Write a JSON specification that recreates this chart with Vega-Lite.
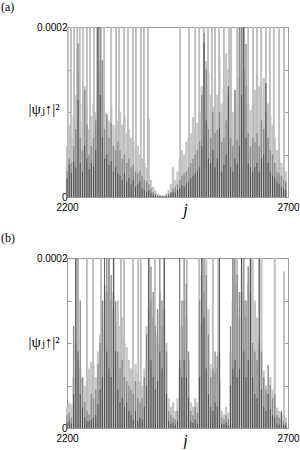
{
"$schema":"https://vega.github.io/schema/vega-lite/v6.json",
"padding":{"left":0,"top":0,"right":5,"bottom":0},
"spacing":13,
"config":{"view":{"stroke":"#9a9a9a","strokeWidth":1},"axis":{"grid":false,"domain":false,"labelFont":"Arial, Liberation Sans, sans-serif","labelFontSize":10,"labelColor":"#000","tickColor":"#9a9a9a"},"title":{"font":"Times New Roman, Liberation Serif, DejaVu Serif, serif","fontSize":12,"fontWeight":"normal","anchor":"start","frame":"group","dx":-66,"offset":8}},
"data":{"values":[
{"p":"a","s":"L","j":2200,"v":60e-6},{"p":"a","s":"L","j":2205,"v":85e-6},{"p":"a","s":"L","j":2210,"v":70e-6},{"p":"a","s":"L","j":2215,"v":95e-6},{"p":"a","s":"L","j":2220,"v":120e-6},{"p":"a","s":"L","j":2225,"v":150e-6},{"p":"a","s":"L","j":2230,"v":110e-6},{"p":"a","s":"L","j":2235,"v":90e-6},{"p":"a","s":"L","j":2240,"v":130e-6},{"p":"a","s":"L","j":2245,"v":105e-6},
{"p":"a","s":"L","j":2250,"v":80e-6},{"p":"a","s":"L","j":2255,"v":95e-6},{"p":"a","s":"L","j":2260,"v":110e-6},{"p":"a","s":"L","j":2265,"v":100e-6},{"p":"a","s":"L","j":2270,"v":140e-6},{"p":"a","s":"L","j":2275,"v":160e-6},{"p":"a","s":"L","j":2280,"v":120e-6},{"p":"a","s":"L","j":2285,"v":100e-6},{"p":"a","s":"L","j":2290,"v":95e-6},{"p":"a","s":"L","j":2295,"v":90e-6},
{"p":"a","s":"L","j":2300,"v":105e-6},{"p":"a","s":"L","j":2305,"v":85e-6},{"p":"a","s":"L","j":2310,"v":80e-6},{"p":"a","s":"L","j":2315,"v":90e-6},{"p":"a","s":"L","j":2320,"v":100e-6},{"p":"a","s":"L","j":2325,"v":85e-6},{"p":"a","s":"L","j":2330,"v":95e-6},{"p":"a","s":"L","j":2335,"v":75e-6},{"p":"a","s":"L","j":2340,"v":80e-6},{"p":"a","s":"L","j":2345,"v":70e-6},
{"p":"a","s":"L","j":2350,"v":65e-6},{"p":"a","s":"L","j":2355,"v":55e-6},{"p":"a","s":"L","j":2360,"v":60e-6},{"p":"a","s":"L","j":2365,"v":50e-6},{"p":"a","s":"L","j":2370,"v":45e-6},{"p":"a","s":"L","j":2375,"v":40e-6},{"p":"a","s":"L","j":2380,"v":35e-6},{"p":"a","s":"L","j":2385,"v":92e-6},{"p":"a","s":"L","j":2390,"v":20e-6},{"p":"a","s":"L","j":2395,"v":12e-6},
{"p":"a","s":"L","j":2400,"v":8e-6},{"p":"a","s":"L","j":2405,"v":4e-6},{"p":"a","s":"L","j":2410,"v":3e-6},{"p":"a","s":"L","j":2415,"v":2e-6},{"p":"a","s":"L","j":2420,"v":2e-6},{"p":"a","s":"L","j":2425,"v":4e-6},{"p":"a","s":"L","j":2430,"v":8e-6},{"p":"a","s":"L","j":2435,"v":15e-6},{"p":"a","s":"L","j":2440,"v":35e-6},{"p":"a","s":"L","j":2445,"v":20e-6},
{"p":"a","s":"L","j":2450,"v":30e-6},{"p":"a","s":"L","j":2455,"v":45e-6},{"p":"a","s":"L","j":2460,"v":55e-6},{"p":"a","s":"L","j":2465,"v":50e-6},{"p":"a","s":"L","j":2470,"v":65e-6},{"p":"a","s":"L","j":2475,"v":69e-6},{"p":"a","s":"L","j":2480,"v":75e-6},{"p":"a","s":"L","j":2485,"v":94e-6},{"p":"a","s":"L","j":2490,"v":80e-6},{"p":"a","s":"L","j":2495,"v":87e-6},
{"p":"a","s":"L","j":2500,"v":100e-6},{"p":"a","s":"L","j":2505,"v":130e-6},{"p":"a","s":"L","j":2510,"v":200e-6},{"p":"a","s":"L","j":2515,"v":160e-6},{"p":"a","s":"L","j":2520,"v":146e-6},{"p":"a","s":"L","j":2525,"v":120e-6},{"p":"a","s":"L","j":2530,"v":106e-6},{"p":"a","s":"L","j":2535,"v":140e-6},{"p":"a","s":"L","j":2540,"v":120e-6},{"p":"a","s":"L","j":2545,"v":165e-6},
{"p":"a","s":"L","j":2550,"v":110e-6},{"p":"a","s":"L","j":2555,"v":130e-6},{"p":"a","s":"L","j":2560,"v":169e-6},{"p":"a","s":"L","j":2565,"v":150e-6},{"p":"a","s":"L","j":2570,"v":120e-6},{"p":"a","s":"L","j":2575,"v":100e-6},{"p":"a","s":"L","j":2580,"v":126e-6},{"p":"a","s":"L","j":2585,"v":110e-6},{"p":"a","s":"L","j":2590,"v":140e-6},{"p":"a","s":"L","j":2595,"v":160e-6},
{"p":"a","s":"L","j":2600,"v":150e-6},{"p":"a","s":"L","j":2605,"v":130e-6},{"p":"a","s":"L","j":2610,"v":110e-6},{"p":"a","s":"L","j":2615,"v":102e-6},{"p":"a","s":"L","j":2620,"v":108e-6},{"p":"a","s":"L","j":2625,"v":126e-6},{"p":"a","s":"L","j":2630,"v":146e-6},{"p":"a","s":"L","j":2635,"v":130e-6},{"p":"a","s":"L","j":2640,"v":120e-6},{"p":"a","s":"L","j":2645,"v":140e-6},
{"p":"a","s":"L","j":2650,"v":125e-6},{"p":"a","s":"L","j":2655,"v":110e-6},{"p":"a","s":"L","j":2660,"v":95e-6},{"p":"a","s":"L","j":2665,"v":85e-6},{"p":"a","s":"L","j":2670,"v":70e-6},{"p":"a","s":"L","j":2675,"v":55e-6},{"p":"a","s":"L","j":2680,"v":45e-6},{"p":"a","s":"L","j":2685,"v":40e-6},{"p":"a","s":"L","j":2690,"v":35e-6},{"p":"a","s":"L","j":2695,"v":30e-6},
{"p":"a","s":"S","j":2202,"v":300e-6},{"p":"a","s":"S","j":2209,"v":300e-6},{"p":"a","s":"S","j":2216,"v":300e-6},{"p":"a","s":"S","j":2223,"v":300e-6},{"p":"a","s":"S","j":2229,"v":300e-6},{"p":"a","s":"S","j":2236,"v":300e-6},{"p":"a","s":"S","j":2245,"v":300e-6},{"p":"a","s":"S","j":2252,"v":300e-6},{"p":"a","s":"S","j":2261,"v":300e-6},{"p":"a","s":"S","j":2268,"v":300e-6},{"p":"a","s":"S","j":2277,"v":300e-6},{"p":"a","s":"S","j":2284,"v":300e-6},{"p":"a","s":"S","j":2300,"v":300e-6},{"p":"a","s":"S","j":2311,"v":300e-6},{"p":"a","s":"S","j":2318,"v":300e-6},{"p":"a","s":"S","j":2329,"v":300e-6},
{"p":"a","s":"S","j":2338,"v":300e-6},{"p":"a","s":"S","j":2349,"v":300e-6},{"p":"a","s":"S","j":2356,"v":300e-6},{"p":"a","s":"S","j":2367,"v":300e-6},{"p":"a","s":"S","j":2374,"v":300e-6},{"p":"a","s":"S","j":2383,"v":300e-6},{"p":"a","s":"S","j":2456,"v":300e-6},{"p":"a","s":"S","j":2476,"v":300e-6},{"p":"a","s":"S","j":2490,"v":300e-6},{"p":"a","s":"S","j":2499,"v":300e-6},{"p":"a","s":"S","j":2510,"v":300e-6},{"p":"a","s":"S","j":2519,"v":300e-6},{"p":"a","s":"S","j":2528,"v":300e-6},{"p":"a","s":"S","j":2535,"v":300e-6},{"p":"a","s":"S","j":2544,"v":300e-6},
{"p":"a","s":"S","j":2555,"v":300e-6},{"p":"a","s":"S","j":2567,"v":300e-6},{"p":"a","s":"S","j":2571,"v":300e-6},{"p":"a","s":"S","j":2585,"v":300e-6},{"p":"a","s":"S","j":2591,"v":300e-6},{"p":"a","s":"S","j":2598,"v":300e-6},{"p":"a","s":"S","j":2610,"v":300e-6},{"p":"a","s":"S","j":2621,"v":300e-6},{"p":"a","s":"S","j":2630,"v":300e-6},{"p":"a","s":"S","j":2639,"v":300e-6},{"p":"a","s":"S","j":2650,"v":300e-6},{"p":"a","s":"S","j":2659,"v":300e-6},{"p":"a","s":"S","j":2668,"v":300e-6},{"p":"a","s":"S","j":2680,"v":300e-6},{"p":"a","s":"S","j":2691,"v":300e-6},
{"p":"a","s":"M","j":2200,"v":30e-6},{"p":"a","s":"M","j":2205,"v":45e-6},{"p":"a","s":"M","j":2210,"v":40e-6},{"p":"a","s":"M","j":2215,"v":60e-6},{"p":"a","s":"M","j":2220,"v":80e-6},{"p":"a","s":"M","j":2225,"v":181e-6},{"p":"a","s":"M","j":2230,"v":70e-6},{"p":"a","s":"M","j":2235,"v":55e-6},{"p":"a","s":"M","j":2240,"v":126e-6},{"p":"a","s":"M","j":2245,"v":85e-6},
{"p":"a","s":"M","j":2250,"v":50e-6},{"p":"a","s":"M","j":2255,"v":60e-6},{"p":"a","s":"M","j":2260,"v":70e-6},{"p":"a","s":"M","j":2265,"v":90e-6},{"p":"a","s":"M","j":2270,"v":200e-6},{"p":"a","s":"M","j":2275,"v":210e-6},{"p":"a","s":"M","j":2280,"v":161e-6},{"p":"a","s":"M","j":2285,"v":80e-6},{"p":"a","s":"M","j":2290,"v":98e-6},{"p":"a","s":"M","j":2295,"v":70e-6},
{"p":"a","s":"M","j":2300,"v":87e-6},{"p":"a","s":"M","j":2305,"v":60e-6},{"p":"a","s":"M","j":2310,"v":55e-6},{"p":"a","s":"M","j":2315,"v":65e-6},{"p":"a","s":"M","j":2320,"v":55e-6},{"p":"a","s":"M","j":2325,"v":45e-6},{"p":"a","s":"M","j":2330,"v":50e-6},{"p":"a","s":"M","j":2335,"v":40e-6},{"p":"a","s":"M","j":2340,"v":45e-6},{"p":"a","s":"M","j":2345,"v":35e-6},
{"p":"a","s":"M","j":2350,"v":38e-6},{"p":"a","s":"M","j":2355,"v":30e-6},{"p":"a","s":"M","j":2360,"v":28e-6},{"p":"a","s":"M","j":2365,"v":31e-6},{"p":"a","s":"M","j":2370,"v":25e-6},{"p":"a","s":"M","j":2375,"v":20e-6},{"p":"a","s":"M","j":2380,"v":18e-6},{"p":"a","s":"M","j":2385,"v":15e-6},{"p":"a","s":"M","j":2390,"v":10e-6},{"p":"a","s":"M","j":2395,"v":6e-6},
{"p":"a","s":"M","j":2400,"v":4e-6},{"p":"a","s":"M","j":2405,"v":2e-6},{"p":"a","s":"M","j":2410,"v":1e-6},{"p":"a","s":"M","j":2415,"v":1e-6},{"p":"a","s":"M","j":2420,"v":1e-6},{"p":"a","s":"M","j":2425,"v":2e-6},{"p":"a","s":"M","j":2430,"v":4e-6},{"p":"a","s":"M","j":2435,"v":6e-6},{"p":"a","s":"M","j":2440,"v":10e-6},{"p":"a","s":"M","j":2445,"v":12e-6},
{"p":"a","s":"M","j":2450,"v":15e-6},{"p":"a","s":"M","j":2455,"v":20e-6},{"p":"a","s":"M","j":2460,"v":25e-6},{"p":"a","s":"M","j":2465,"v":28e-6},{"p":"a","s":"M","j":2470,"v":30e-6},{"p":"a","s":"M","j":2475,"v":35e-6},{"p":"a","s":"M","j":2480,"v":40e-6},{"p":"a","s":"M","j":2485,"v":45e-6},{"p":"a","s":"M","j":2490,"v":50e-6},{"p":"a","s":"M","j":2495,"v":55e-6},
{"p":"a","s":"M","j":2500,"v":65e-6},{"p":"a","s":"M","j":2505,"v":120e-6},{"p":"a","s":"M","j":2510,"v":193e-6},{"p":"a","s":"M","j":2515,"v":150e-6},{"p":"a","s":"M","j":2520,"v":80e-6},{"p":"a","s":"M","j":2525,"v":70e-6},{"p":"a","s":"M","j":2530,"v":100e-6},{"p":"a","s":"M","j":2535,"v":75e-6},{"p":"a","s":"M","j":2540,"v":79e-6},{"p":"a","s":"M","j":2545,"v":100e-6},
{"p":"a","s":"M","j":2550,"v":65e-6},{"p":"a","s":"M","j":2555,"v":70e-6},{"p":"a","s":"M","j":2560,"v":90e-6},{"p":"a","s":"M","j":2565,"v":120e-6},{"p":"a","s":"M","j":2570,"v":70e-6},{"p":"a","s":"M","j":2575,"v":60e-6},{"p":"a","s":"M","j":2580,"v":126e-6},{"p":"a","s":"M","j":2585,"v":67e-6},{"p":"a","s":"M","j":2590,"v":200e-6},{"p":"a","s":"M","j":2595,"v":220e-6},
{"p":"a","s":"M","j":2600,"v":230e-6},{"p":"a","s":"M","j":2605,"v":180e-6},{"p":"a","s":"M","j":2610,"v":75e-6},{"p":"a","s":"M","j":2615,"v":60e-6},{"p":"a","s":"M","j":2620,"v":70e-6},{"p":"a","s":"M","j":2625,"v":65e-6},{"p":"a","s":"M","j":2630,"v":75e-6},{"p":"a","s":"M","j":2635,"v":60e-6},{"p":"a","s":"M","j":2640,"v":90e-6},{"p":"a","s":"M","j":2645,"v":80e-6},
{"p":"a","s":"M","j":2650,"v":100e-6},{"p":"a","s":"M","j":2655,"v":70e-6},{"p":"a","s":"M","j":2660,"v":55e-6},{"p":"a","s":"M","j":2665,"v":50e-6},{"p":"a","s":"M","j":2670,"v":40e-6},{"p":"a","s":"M","j":2675,"v":30e-6},{"p":"a","s":"M","j":2680,"v":28e-6},{"p":"a","s":"M","j":2685,"v":25e-6},{"p":"a","s":"M","j":2690,"v":20e-6},{"p":"a","s":"M","j":2695,"v":18e-6},
{"p":"a","s":"D","j":2200,"v":22e-6},{"p":"a","s":"D","j":2205,"v":38e-6},{"p":"a","s":"D","j":2210,"v":28e-6},{"p":"a","s":"D","j":2215,"v":42e-6},{"p":"a","s":"D","j":2220,"v":35e-6},{"p":"a","s":"D","j":2225,"v":114e-6},{"p":"a","s":"D","j":2230,"v":40e-6},{"p":"a","s":"D","j":2235,"v":30e-6},{"p":"a","s":"D","j":2240,"v":60e-6},{"p":"a","s":"D","j":2245,"v":45e-6},
{"p":"a","s":"D","j":2250,"v":33e-6},{"p":"a","s":"D","j":2255,"v":40e-6},{"p":"a","s":"D","j":2260,"v":36e-6},{"p":"a","s":"D","j":2265,"v":55e-6},{"p":"a","s":"D","j":2270,"v":200e-6},{"p":"a","s":"D","j":2275,"v":120e-6},{"p":"a","s":"D","j":2280,"v":70e-6},{"p":"a","s":"D","j":2285,"v":45e-6},{"p":"a","s":"D","j":2290,"v":50e-6},{"p":"a","s":"D","j":2295,"v":38e-6},
{"p":"a","s":"D","j":2300,"v":42e-6},{"p":"a","s":"D","j":2305,"v":30e-6},{"p":"a","s":"D","j":2310,"v":35e-6},{"p":"a","s":"D","j":2315,"v":28e-6},{"p":"a","s":"D","j":2320,"v":25e-6},{"p":"a","s":"D","j":2325,"v":20e-6},{"p":"a","s":"D","j":2330,"v":28e-6},{"p":"a","s":"D","j":2335,"v":18e-6},{"p":"a","s":"D","j":2340,"v":22e-6},{"p":"a","s":"D","j":2345,"v":15e-6},
{"p":"a","s":"D","j":2350,"v":20e-6},{"p":"a","s":"D","j":2355,"v":12e-6},{"p":"a","s":"D","j":2360,"v":15e-6},{"p":"a","s":"D","j":2365,"v":18e-6},{"p":"a","s":"D","j":2370,"v":10e-6},{"p":"a","s":"D","j":2375,"v":8e-6},{"p":"a","s":"D","j":2380,"v":6e-6},{"p":"a","s":"D","j":2385,"v":8e-6},{"p":"a","s":"D","j":2390,"v":5e-6},{"p":"a","s":"D","j":2395,"v":3e-6},
{"p":"a","s":"D","j":2400,"v":2e-6},{"p":"a","s":"D","j":2405,"v":1e-6},{"p":"a","s":"D","j":2410,"v":1e-6},{"p":"a","s":"D","j":2415,"v":0.5e-6},{"p":"a","s":"D","j":2420,"v":0.5e-6},{"p":"a","s":"D","j":2425,"v":1e-6},{"p":"a","s":"D","j":2430,"v":2e-6},{"p":"a","s":"D","j":2435,"v":4e-6},{"p":"a","s":"D","j":2440,"v":6e-6},{"p":"a","s":"D","j":2445,"v":5e-6},
{"p":"a","s":"D","j":2450,"v":8e-6},{"p":"a","s":"D","j":2455,"v":10e-6},{"p":"a","s":"D","j":2460,"v":14e-6},{"p":"a","s":"D","j":2465,"v":12e-6},{"p":"a","s":"D","j":2470,"v":16e-6},{"p":"a","s":"D","j":2475,"v":18e-6},{"p":"a","s":"D","j":2480,"v":22e-6},{"p":"a","s":"D","j":2485,"v":25e-6},{"p":"a","s":"D","j":2490,"v":28e-6},{"p":"a","s":"D","j":2495,"v":30e-6},
{"p":"a","s":"D","j":2500,"v":35e-6},{"p":"a","s":"D","j":2505,"v":60e-6},{"p":"a","s":"D","j":2510,"v":181e-6},{"p":"a","s":"D","j":2515,"v":90e-6},{"p":"a","s":"D","j":2520,"v":45e-6},{"p":"a","s":"D","j":2525,"v":40e-6},{"p":"a","s":"D","j":2530,"v":55e-6},{"p":"a","s":"D","j":2535,"v":35e-6},{"p":"a","s":"D","j":2540,"v":45e-6},{"p":"a","s":"D","j":2545,"v":81e-6},
{"p":"a","s":"D","j":2550,"v":30e-6},{"p":"a","s":"D","j":2555,"v":38e-6},{"p":"a","s":"D","j":2560,"v":50e-6},{"p":"a","s":"D","j":2565,"v":130e-6},{"p":"a","s":"D","j":2570,"v":35e-6},{"p":"a","s":"D","j":2575,"v":30e-6},{"p":"a","s":"D","j":2580,"v":45e-6},{"p":"a","s":"D","j":2585,"v":39e-6},{"p":"a","s":"D","j":2590,"v":60e-6},{"p":"a","s":"D","j":2595,"v":120e-6},
{"p":"a","s":"D","j":2600,"v":200e-6},{"p":"a","s":"D","j":2605,"v":70e-6},{"p":"a","s":"D","j":2610,"v":40e-6},{"p":"a","s":"D","j":2615,"v":35e-6},{"p":"a","s":"D","j":2620,"v":30e-6},{"p":"a","s":"D","j":2625,"v":35e-6},{"p":"a","s":"D","j":2630,"v":40e-6},{"p":"a","s":"D","j":2635,"v":30e-6},{"p":"a","s":"D","j":2640,"v":45e-6},{"p":"a","s":"D","j":2645,"v":50e-6},
{"p":"a","s":"D","j":2650,"v":134e-6},{"p":"a","s":"D","j":2655,"v":40e-6},{"p":"a","s":"D","j":2660,"v":30e-6},{"p":"a","s":"D","j":2665,"v":25e-6},{"p":"a","s":"D","j":2670,"v":22e-6},{"p":"a","s":"D","j":2675,"v":18e-6},{"p":"a","s":"D","j":2680,"v":15e-6},{"p":"a","s":"D","j":2685,"v":12e-6},{"p":"a","s":"D","j":2690,"v":10e-6},{"p":"a","s":"D","j":2695,"v":8e-6},
{"p":"b","s":"L","j":2200,"v":25e-6},{"p":"b","s":"L","j":2205,"v":30e-6},{"p":"b","s":"L","j":2210,"v":28e-6},{"p":"b","s":"L","j":2215,"v":60e-6},{"p":"b","s":"L","j":2220,"v":100e-6},{"p":"b","s":"L","j":2225,"v":80e-6},{"p":"b","s":"L","j":2230,"v":70e-6},{"p":"b","s":"L","j":2235,"v":60e-6},{"p":"b","s":"L","j":2240,"v":50e-6},{"p":"b","s":"L","j":2245,"v":55e-6},
{"p":"b","s":"L","j":2250,"v":70e-6},{"p":"b","s":"L","j":2255,"v":78e-6},{"p":"b","s":"L","j":2260,"v":74e-6},{"p":"b","s":"L","j":2265,"v":60e-6},{"p":"b","s":"L","j":2270,"v":90e-6},{"p":"b","s":"L","j":2275,"v":110e-6},{"p":"b","s":"L","j":2280,"v":130e-6},{"p":"b","s":"L","j":2285,"v":150e-6},{"p":"b","s":"L","j":2290,"v":160e-6},{"p":"b","s":"L","j":2295,"v":170e-6},
{"p":"b","s":"L","j":2300,"v":150e-6},{"p":"b","s":"L","j":2305,"v":140e-6},{"p":"b","s":"L","j":2310,"v":120e-6},{"p":"b","s":"L","j":2315,"v":150e-6},{"p":"b","s":"L","j":2320,"v":120e-6},{"p":"b","s":"L","j":2325,"v":130e-6},{"p":"b","s":"L","j":2330,"v":100e-6},{"p":"b","s":"L","j":2335,"v":95e-6},{"p":"b","s":"L","j":2340,"v":80e-6},{"p":"b","s":"L","j":2345,"v":70e-6},
{"p":"b","s":"L","j":2350,"v":60e-6},{"p":"b","s":"L","j":2355,"v":75e-6},{"p":"b","s":"L","j":2360,"v":65e-6},{"p":"b","s":"L","j":2365,"v":55e-6},{"p":"b","s":"L","j":2370,"v":50e-6},{"p":"b","s":"L","j":2375,"v":70e-6},{"p":"b","s":"L","j":2380,"v":120e-6},{"p":"b","s":"L","j":2385,"v":140e-6},{"p":"b","s":"L","j":2390,"v":150e-6},{"p":"b","s":"L","j":2395,"v":130e-6},
{"p":"b","s":"L","j":2400,"v":110e-6},{"p":"b","s":"L","j":2405,"v":100e-6},{"p":"b","s":"L","j":2410,"v":160e-6},{"p":"b","s":"L","j":2415,"v":120e-6},{"p":"b","s":"L","j":2420,"v":140e-6},{"p":"b","s":"L","j":2425,"v":100e-6},{"p":"b","s":"L","j":2430,"v":35e-6},{"p":"b","s":"L","j":2435,"v":25e-6},{"p":"b","s":"L","j":2440,"v":30e-6},{"p":"b","s":"L","j":2445,"v":20e-6},
{"p":"b","s":"L","j":2450,"v":35e-6},{"p":"b","s":"L","j":2455,"v":70e-6},{"p":"b","s":"L","j":2460,"v":120e-6},{"p":"b","s":"L","j":2465,"v":150e-6},{"p":"b","s":"L","j":2470,"v":130e-6},{"p":"b","s":"L","j":2475,"v":80e-6},{"p":"b","s":"L","j":2480,"v":30e-6},{"p":"b","s":"L","j":2485,"v":25e-6},{"p":"b","s":"L","j":2490,"v":35e-6},{"p":"b","s":"L","j":2495,"v":30e-6},
{"p":"b","s":"L","j":2500,"v":120e-6},{"p":"b","s":"L","j":2505,"v":180e-6},{"p":"b","s":"L","j":2510,"v":160e-6},{"p":"b","s":"L","j":2515,"v":200e-6},{"p":"b","s":"L","j":2520,"v":140e-6},{"p":"b","s":"L","j":2525,"v":75e-6},{"p":"b","s":"L","j":2530,"v":60e-6},{"p":"b","s":"L","j":2535,"v":65e-6},{"p":"b","s":"L","j":2540,"v":70e-6},{"p":"b","s":"L","j":2545,"v":55e-6},
{"p":"b","s":"L","j":2550,"v":20e-6},{"p":"b","s":"L","j":2555,"v":16e-6},{"p":"b","s":"L","j":2560,"v":25e-6},{"p":"b","s":"L","j":2565,"v":18e-6},{"p":"b","s":"L","j":2570,"v":90e-6},{"p":"b","s":"L","j":2575,"v":150e-6},{"p":"b","s":"L","j":2580,"v":170e-6},{"p":"b","s":"L","j":2585,"v":140e-6},{"p":"b","s":"L","j":2590,"v":130e-6},{"p":"b","s":"L","j":2595,"v":160e-6},
{"p":"b","s":"L","j":2600,"v":150e-6},{"p":"b","s":"L","j":2605,"v":130e-6},{"p":"b","s":"L","j":2610,"v":170e-6},{"p":"b","s":"L","j":2615,"v":200e-6},{"p":"b","s":"L","j":2620,"v":210e-6},{"p":"b","s":"L","j":2625,"v":150e-6},{"p":"b","s":"L","j":2630,"v":130e-6},{"p":"b","s":"L","j":2635,"v":220e-6},{"p":"b","s":"L","j":2640,"v":200e-6},{"p":"b","s":"L","j":2645,"v":67e-6},
{"p":"b","s":"L","j":2650,"v":50e-6},{"p":"b","s":"L","j":2655,"v":40e-6},{"p":"b","s":"L","j":2660,"v":60e-6},{"p":"b","s":"L","j":2665,"v":45e-6},{"p":"b","s":"L","j":2670,"v":220e-6},{"p":"b","s":"L","j":2675,"v":24e-6},{"p":"b","s":"L","j":2680,"v":20e-6},{"p":"b","s":"L","j":2685,"v":18e-6},{"p":"b","s":"L","j":2690,"v":15e-6},{"p":"b","s":"L","j":2695,"v":12e-6},
{"p":"b","s":"S","j":2245,"v":300e-6},{"p":"b","s":"S","j":2259,"v":300e-6},{"p":"b","s":"S","j":2277,"v":300e-6},{"p":"b","s":"S","j":2295,"v":300e-6},{"p":"b","s":"S","j":2306,"v":300e-6},{"p":"b","s":"S","j":2322,"v":300e-6},{"p":"b","s":"S","j":2329,"v":300e-6},{"p":"b","s":"S","j":2349,"v":300e-6},{"p":"b","s":"S","j":2361,"v":300e-6},{"p":"b","s":"S","j":2367,"v":300e-6},{"p":"b","s":"S","j":2399,"v":300e-6},{"p":"b","s":"S","j":2471,"v":300e-6},{"p":"b","s":"S","j":2499,"v":300e-6},{"p":"b","s":"S","j":2530,"v":300e-6},{"p":"b","s":"S","j":2542,"v":300e-6},{"p":"b","s":"S","j":2578,"v":300e-6},{"p":"b","s":"S","j":2585,"v":300e-6},{"p":"b","s":"S","j":2616,"v":300e-6},{"p":"b","s":"S","j":2691,"v":184e-6},
{"p":"b","s":"M","j":2200,"v":15e-6},{"p":"b","s":"M","j":2205,"v":18e-6},{"p":"b","s":"M","j":2210,"v":12e-6},{"p":"b","s":"M","j":2215,"v":120e-6},{"p":"b","s":"M","j":2220,"v":200e-6},{"p":"b","s":"M","j":2225,"v":199e-6},{"p":"b","s":"M","j":2230,"v":150e-6},{"p":"b","s":"M","j":2235,"v":59e-6},{"p":"b","s":"M","j":2240,"v":31e-6},{"p":"b","s":"M","j":2245,"v":20e-6},
{"p":"b","s":"M","j":2250,"v":16e-6},{"p":"b","s":"M","j":2255,"v":40e-6},{"p":"b","s":"M","j":2260,"v":35e-6},{"p":"b","s":"M","j":2265,"v":45e-6},{"p":"b","s":"M","j":2270,"v":75e-6},{"p":"b","s":"M","j":2275,"v":100e-6},{"p":"b","s":"M","j":2280,"v":150e-6},{"p":"b","s":"M","j":2285,"v":168e-6},{"p":"b","s":"M","j":2290,"v":200e-6},{"p":"b","s":"M","j":2295,"v":210e-6},
{"p":"b","s":"M","j":2300,"v":180e-6},{"p":"b","s":"M","j":2305,"v":160e-6},{"p":"b","s":"M","j":2310,"v":149e-6},{"p":"b","s":"M","j":2315,"v":90e-6},{"p":"b","s":"M","j":2320,"v":70e-6},{"p":"b","s":"M","j":2325,"v":80e-6},{"p":"b","s":"M","j":2330,"v":60e-6},{"p":"b","s":"M","j":2335,"v":55e-6},{"p":"b","s":"M","j":2340,"v":50e-6},{"p":"b","s":"M","j":2345,"v":45e-6},
{"p":"b","s":"M","j":2350,"v":40e-6},{"p":"b","s":"M","j":2355,"v":55e-6},{"p":"b","s":"M","j":2360,"v":35e-6},{"p":"b","s":"M","j":2365,"v":30e-6},{"p":"b","s":"M","j":2370,"v":35e-6},{"p":"b","s":"M","j":2375,"v":60e-6},{"p":"b","s":"M","j":2380,"v":110e-6},{"p":"b","s":"M","j":2385,"v":200e-6},{"p":"b","s":"M","j":2390,"v":190e-6},{"p":"b","s":"M","j":2395,"v":160e-6},
{"p":"b","s":"M","j":2400,"v":120e-6},{"p":"b","s":"M","j":2405,"v":140e-6},{"p":"b","s":"M","j":2410,"v":210e-6},{"p":"b","s":"M","j":2415,"v":150e-6},{"p":"b","s":"M","j":2420,"v":200e-6},{"p":"b","s":"M","j":2425,"v":90e-6},{"p":"b","s":"M","j":2430,"v":20e-6},{"p":"b","s":"M","j":2435,"v":15e-6},{"p":"b","s":"M","j":2440,"v":12e-6},{"p":"b","s":"M","j":2445,"v":10e-6},
{"p":"b","s":"M","j":2450,"v":20e-6},{"p":"b","s":"M","j":2455,"v":80e-6},{"p":"b","s":"M","j":2460,"v":150e-6},{"p":"b","s":"M","j":2465,"v":200e-6},{"p":"b","s":"M","j":2470,"v":170e-6},{"p":"b","s":"M","j":2475,"v":90e-6},{"p":"b","s":"M","j":2480,"v":20e-6},{"p":"b","s":"M","j":2485,"v":15e-6},{"p":"b","s":"M","j":2490,"v":25e-6},{"p":"b","s":"M","j":2495,"v":18e-6},
{"p":"b","s":"M","j":2500,"v":150e-6},{"p":"b","s":"M","j":2505,"v":210e-6},{"p":"b","s":"M","j":2510,"v":200e-6},{"p":"b","s":"M","j":2515,"v":180e-6},{"p":"b","s":"M","j":2520,"v":110e-6},{"p":"b","s":"M","j":2525,"v":60e-6},{"p":"b","s":"M","j":2530,"v":70e-6},{"p":"b","s":"M","j":2535,"v":90e-6},{"p":"b","s":"M","j":2540,"v":85e-6},{"p":"b","s":"M","j":2545,"v":90e-6},
{"p":"b","s":"M","j":2550,"v":12e-6},{"p":"b","s":"M","j":2555,"v":10e-6},{"p":"b","s":"M","j":2560,"v":15e-6},{"p":"b","s":"M","j":2565,"v":10e-6},{"p":"b","s":"M","j":2570,"v":120e-6},{"p":"b","s":"M","j":2575,"v":200e-6},{"p":"b","s":"M","j":2580,"v":210e-6},{"p":"b","s":"M","j":2585,"v":180e-6},{"p":"b","s":"M","j":2590,"v":160e-6},{"p":"b","s":"M","j":2595,"v":200e-6},
{"p":"b","s":"M","j":2600,"v":220e-6},{"p":"b","s":"M","j":2605,"v":150e-6},{"p":"b","s":"M","j":2610,"v":190e-6},{"p":"b","s":"M","j":2615,"v":160e-6},{"p":"b","s":"M","j":2620,"v":100e-6},{"p":"b","s":"M","j":2625,"v":90e-6},{"p":"b","s":"M","j":2630,"v":80e-6},{"p":"b","s":"M","j":2635,"v":100e-6},{"p":"b","s":"M","j":2640,"v":90e-6},{"p":"b","s":"M","j":2645,"v":60e-6},
{"p":"b","s":"M","j":2650,"v":45e-6},{"p":"b","s":"M","j":2655,"v":40e-6},{"p":"b","s":"M","j":2660,"v":50e-6},{"p":"b","s":"M","j":2665,"v":35e-6},{"p":"b","s":"M","j":2670,"v":40e-6},{"p":"b","s":"M","j":2675,"v":15e-6},{"p":"b","s":"M","j":2680,"v":12e-6},{"p":"b","s":"M","j":2685,"v":10e-6},{"p":"b","s":"M","j":2690,"v":8e-6},{"p":"b","s":"M","j":2695,"v":6e-6},
{"p":"b","s":"D","j":2200,"v":6e-6},{"p":"b","s":"D","j":2205,"v":8e-6},{"p":"b","s":"D","j":2210,"v":5e-6},{"p":"b","s":"D","j":2215,"v":40e-6},{"p":"b","s":"D","j":2220,"v":200e-6},{"p":"b","s":"D","j":2225,"v":90e-6},{"p":"b","s":"D","j":2230,"v":40e-6},{"p":"b","s":"D","j":2235,"v":24e-6},{"p":"b","s":"D","j":2240,"v":12e-6},{"p":"b","s":"D","j":2245,"v":8e-6},
{"p":"b","s":"D","j":2250,"v":8e-6},{"p":"b","s":"D","j":2255,"v":10e-6},{"p":"b","s":"D","j":2260,"v":12e-6},{"p":"b","s":"D","j":2265,"v":15e-6},{"p":"b","s":"D","j":2270,"v":28e-6},{"p":"b","s":"D","j":2275,"v":45e-6},{"p":"b","s":"D","j":2280,"v":60e-6},{"p":"b","s":"D","j":2285,"v":200e-6},{"p":"b","s":"D","j":2290,"v":90e-6},{"p":"b","s":"D","j":2295,"v":70e-6},
{"p":"b","s":"D","j":2300,"v":60e-6},{"p":"b","s":"D","j":2305,"v":200e-6},{"p":"b","s":"D","j":2310,"v":90e-6},{"p":"b","s":"D","j":2315,"v":45e-6},{"p":"b","s":"D","j":2320,"v":30e-6},{"p":"b","s":"D","j":2325,"v":35e-6},{"p":"b","s":"D","j":2330,"v":25e-6},{"p":"b","s":"D","j":2335,"v":30e-6},{"p":"b","s":"D","j":2340,"v":20e-6},{"p":"b","s":"D","j":2345,"v":15e-6},
{"p":"b","s":"D","j":2350,"v":10e-6},{"p":"b","s":"D","j":2355,"v":20e-6},{"p":"b","s":"D","j":2360,"v":8e-6},{"p":"b","s":"D","j":2365,"v":12e-6},{"p":"b","s":"D","j":2370,"v":10e-6},{"p":"b","s":"D","j":2375,"v":25e-6},{"p":"b","s":"D","j":2380,"v":50e-6},{"p":"b","s":"D","j":2385,"v":200e-6},{"p":"b","s":"D","j":2390,"v":80e-6},{"p":"b","s":"D","j":2395,"v":60e-6},
{"p":"b","s":"D","j":2400,"v":45e-6},{"p":"b","s":"D","j":2405,"v":55e-6},{"p":"b","s":"D","j":2410,"v":90e-6},{"p":"b","s":"D","j":2415,"v":70e-6},{"p":"b","s":"D","j":2420,"v":200e-6},{"p":"b","s":"D","j":2425,"v":40e-6},{"p":"b","s":"D","j":2430,"v":8e-6},{"p":"b","s":"D","j":2435,"v":5e-6},{"p":"b","s":"D","j":2440,"v":6e-6},{"p":"b","s":"D","j":2445,"v":4e-6},
{"p":"b","s":"D","j":2450,"v":8e-6},{"p":"b","s":"D","j":2455,"v":200e-6},{"p":"b","s":"D","j":2460,"v":60e-6},{"p":"b","s":"D","j":2465,"v":80e-6},{"p":"b","s":"D","j":2470,"v":60e-6},{"p":"b","s":"D","j":2475,"v":35e-6},{"p":"b","s":"D","j":2480,"v":8e-6},{"p":"b","s":"D","j":2485,"v":6e-6},{"p":"b","s":"D","j":2490,"v":10e-6},{"p":"b","s":"D","j":2495,"v":5e-6},
{"p":"b","s":"D","j":2500,"v":60e-6},{"p":"b","s":"D","j":2505,"v":200e-6},{"p":"b","s":"D","j":2510,"v":130e-6},{"p":"b","s":"D","j":2515,"v":70e-6},{"p":"b","s":"D","j":2520,"v":40e-6},{"p":"b","s":"D","j":2525,"v":25e-6},{"p":"b","s":"D","j":2530,"v":20e-6},{"p":"b","s":"D","j":2535,"v":30e-6},{"p":"b","s":"D","j":2540,"v":25e-6},{"p":"b","s":"D","j":2545,"v":200e-6},
{"p":"b","s":"D","j":2550,"v":5e-6},{"p":"b","s":"D","j":2555,"v":4e-6},{"p":"b","s":"D","j":2560,"v":6e-6},{"p":"b","s":"D","j":2565,"v":3e-6},{"p":"b","s":"D","j":2570,"v":50e-6},{"p":"b","s":"D","j":2575,"v":70e-6},{"p":"b","s":"D","j":2580,"v":80e-6},{"p":"b","s":"D","j":2585,"v":60e-6},{"p":"b","s":"D","j":2590,"v":70e-6},{"p":"b","s":"D","j":2595,"v":200e-6},
{"p":"b","s":"D","j":2600,"v":90e-6},{"p":"b","s":"D","j":2605,"v":60e-6},{"p":"b","s":"D","j":2610,"v":80e-6},{"p":"b","s":"D","j":2615,"v":200e-6},{"p":"b","s":"D","j":2620,"v":60e-6},{"p":"b","s":"D","j":2625,"v":40e-6},{"p":"b","s":"D","j":2630,"v":35e-6},{"p":"b","s":"D","j":2635,"v":200e-6},{"p":"b","s":"D","j":2640,"v":45e-6},{"p":"b","s":"D","j":2645,"v":25e-6},
{"p":"b","s":"D","j":2650,"v":20e-6},{"p":"b","s":"D","j":2655,"v":74e-6},{"p":"b","s":"D","j":2660,"v":22e-6},{"p":"b","s":"D","j":2665,"v":15e-6},{"p":"b","s":"D","j":2670,"v":12e-6},{"p":"b","s":"D","j":2675,"v":5e-6},{"p":"b","s":"D","j":2680,"v":4e-6},{"p":"b","s":"D","j":2685,"v":20e-6},{"p":"b","s":"D","j":2690,"v":4e-6},{"p":"b","s":"D","j":2695,"v":3e-6}
]},
"vconcat":[
{"title":{"text":"(a)"},"width":221,"height":170,"transform":[{"filter":"datum.p == 'a'"}],
 "layer":[
  {"mark":{"type":"rule"},"encoding":{
   "x":{"field":"j","type":"quantitative","scale":{"domain":[2200,2700],"nice":false,"zero":false},"axis":{"values":[2200,2700],"format":"d","ticks":false,"labelFlush":false,"labelPadding":5,"title":"j","titleFont":"Times New Roman, Liberation Serif, serif","titleFontStyle":"italic","titleFontWeight":"normal","titleFontSize":16,"titleX":118,"titleY":4,"titleBaseline":"top"}},
   "y":{"field":"v","type":"quantitative","scale":{"domain":[0,0.0002],"clamp":true,"nice":false},"axis":{"values":[0,0.00005,0.0001,0.00015,0.0002],"labelExpr":"datum.value == 0 ? '0' : (datum.value > 0.00019 ? '0.0002' : '')","tickSize":-4,"labelPadding":4,"title":"|ψⱼ↑|²","titleAngle":0,"titleAlign":"left","titleBaseline":"middle","titleX":-39,"titleY":81,"titleFont":"Times New Roman, Liberation Serif, DejaVu Serif, serif","titleFontSize":15,"titleFontWeight":"normal"}},
   "y2":{"datum":0},
   "color":{"field":"s","type":"nominal","scale":{"domain":["L","S","M","D"],"range":["#c6c6c6","#bcbcbc","#8c8c8c","#474747"]},"legend":null},
   "strokeWidth":{"field":"s","type":"ordinal","scale":{"domain":["L","S","M","D"],"range":[2.3,0.9,2.3,1.1]},"legend":null}}},
  {"mark":{"type":"rule","opacity":0},"encoding":{
   "y":{"field":"v","type":"quantitative","axis":{"orient":"right","values":[0,0.00005,0.0001,0.00015,0.0002],"labels":false,"tickSize":-4,"title":null}}}}
 ],
 "resolve":{"axis":{"y":"independent"}}},
{"title":{"text":"(b)"},"width":221,"height":170,"transform":[{"filter":"datum.p == 'b'"}],
 "layer":[
  {"mark":{"type":"rule"},"encoding":{
   "x":{"field":"j","type":"quantitative","scale":{"domain":[2200,2700],"nice":false,"zero":false},"axis":{"values":[2200,2700],"format":"d","ticks":false,"labelFlush":false,"labelPadding":5,"title":"j","titleFont":"Times New Roman, Liberation Serif, serif","titleFontStyle":"italic","titleFontWeight":"normal","titleFontSize":16,"titleX":118,"titleY":4,"titleBaseline":"top"}},
   "y":{"field":"v","type":"quantitative","scale":{"domain":[0,0.0002],"clamp":true,"nice":false},"axis":{"values":[0,0.00005,0.0001,0.00015,0.0002],"labelExpr":"datum.value == 0 ? '0' : (datum.value > 0.00019 ? '0.0002' : '')","tickSize":-4,"labelPadding":4,"title":"|ψⱼ↑|²","titleAngle":0,"titleAlign":"left","titleBaseline":"middle","titleX":-39,"titleY":83,"titleFont":"Times New Roman, Liberation Serif, DejaVu Serif, serif","titleFontSize":15,"titleFontWeight":"normal"}},
   "y2":{"datum":0},
   "color":{"field":"s","type":"nominal","scale":{"domain":["L","S","M","D"],"range":["#c6c6c6","#bcbcbc","#8c8c8c","#474747"]},"legend":null},
   "strokeWidth":{"field":"s","type":"ordinal","scale":{"domain":["L","S","M","D"],"range":[2.3,0.9,2.3,1.1]},"legend":null}}},
  {"mark":{"type":"rule","opacity":0},"encoding":{
   "y":{"field":"v","type":"quantitative","axis":{"orient":"right","values":[0,0.00005,0.0001,0.00015,0.0002],"labels":false,"tickSize":-4,"title":null}}}}
 ],
 "resolve":{"axis":{"y":"independent"}}}
]
}
